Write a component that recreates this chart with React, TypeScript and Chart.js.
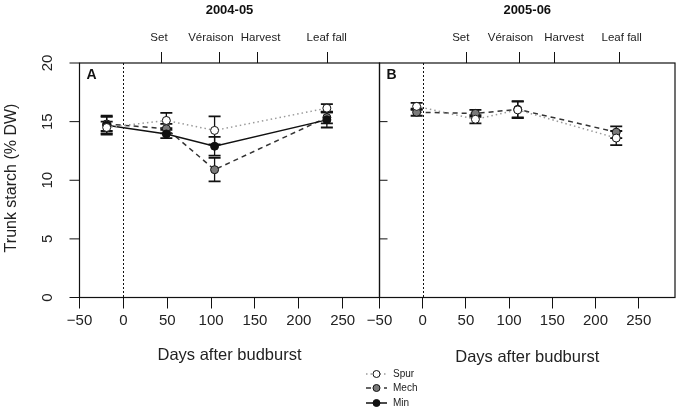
import React, { useEffect, useRef } from "react";
import { Chart, registerables, Plugin } from "chart.js";

Chart.register(...registerables);

const FONT = "'Liberation Sans', Arial, Helvetica, sans-serif";

// panel A, 2004-05
const daysA = [-19, 49, 104, 232];
const spurA = [14.5, 15.1, 14.25, 16.15];
const spurErrA = [0.5, 0.65, 1.2, 0.35];
const mechA = [14.8, 14.4, 10.9, 15.35];
const mechErrA = [0.6, 0.4, 1.0, 0.5];
const minA = [14.7, 13.95, 12.9, 15.15];
const minErrA = [0.8, 0.35, 0.8, 0.65];

// panel B, 2005-06
const daysB = [-7, 61, 110, 224];
const spurB = [16.3, 15.2, 16.0, 13.6];
const spurErrB = [0.3, 0.35, 0.7, 0.6];
const mechB = [15.8, 15.7, 16.05, 14.1];
const mechErrB = [0.3, 0.3, 0.7, 0.5];

const stageNames = ["Set", "Véraison", "Harvest", "Leaf fall"];
const stageDaysA = [44, 110, 153, 233];
const stageDaysB = [51, 112, 152, 228];
// small horizontal nudges (px) so the stage labels do not collide
const stageNudgeA = [-3, -9, 3, -1];
const stageNudgeB = [-6, -9, 10, 2];

const xTicks = [-50, 0, 50, 100, 150, 200, 250];
const yTicks = [0, 5, 10, 15, 20];
const innerYTicks = [5, 10, 15];

const styles = {
  Spur: { line: "#9a9a9a", dash: [1.5, 3], fill: "#ffffff" },
  Mech: { line: "#333333", dash: [5, 4], fill: "#7a7a7a" },
  Min: { line: "#111111", dash: [] as number[], fill: "#111111" },
};

type SeriesName = keyof typeof styles;

const makeSeries = (name: SeriesName, days: number[], vals: number[], errs: number[]) => ({
  label: name,
  data: days.map((d, i) => ({ x: d, y: vals[i] })),
  err: errs,
  borderColor: styles[name].line,
  borderDash: styles[name].dash,
  borderWidth: 1.5,
  pointRadius: 4,
  pointHoverRadius: 4,
  pointBackgroundColor: styles[name].fill,
  pointBorderColor: "#111",
  pointBorderWidth: 1,
  tension: 0,
  fill: false,
});

const errorBars: Plugin = {
  id: "errorBars",
  beforeDatasetsDraw(chart) {
    const { ctx } = chart;
    const y = chart.scales.y;
    ctx.save();
    ctx.strokeStyle = "#111";
    chart.data.datasets.forEach((ds: any, i) => {
      const meta = chart.getDatasetMeta(i);
      meta.data.forEach((pt: any, j) => {
        const v = (ds.data[j] as any).y;
        const e = ds.err[j];
        const top = y.getPixelForValue(v + e);
        const bot = y.getPixelForValue(v - e);
        ctx.lineWidth = 1.3;
        ctx.beginPath();
        ctx.moveTo(pt.x, top);
        ctx.lineTo(pt.x, bot);
        ctx.stroke();
        ctx.lineWidth = 1.8;
        ctx.beginPath();
        ctx.moveTo(pt.x - 6, top);
        ctx.lineTo(pt.x + 6, top);
        ctx.moveTo(pt.x - 6, bot);
        ctx.lineTo(pt.x + 6, bot);
        ctx.stroke();
      });
    });
    ctx.restore();
  },
};

interface PanelCfg {
  letter: string;
  title: string;
  outerY: boolean;
  legend: boolean;
  stageDays: number[];
  stageNudge: number[];
}

const makePanelPlugin = (cfg: PanelCfg): Plugin => ({
  id: "panel" + cfg.letter,
  afterDraw(chart) {
    const { ctx, chartArea } = chart;
    const { left, right, top, bottom } = chartArea;
    const x = chart.scales.x;
    const y = chart.scales.y;
    ctx.save();
    ctx.strokeStyle = "#111";
    ctx.fillStyle = "#111";

    // dotted line at budburst
    const x0 = Math.round(x.getPixelForValue(0)) + 0.5;
    ctx.lineWidth = 1;
    ctx.setLineDash([2, 2]);
    ctx.beginPath();
    ctx.moveTo(x0, top);
    ctx.lineTo(x0, bottom);
    ctx.stroke();
    ctx.setLineDash([]);

    // box
    ctx.lineWidth = 1.2;
    ctx.strokeRect(left, top, right - left, bottom - top);

    // panel letter and season title
    ctx.font = `bold 14px ${FONT}`;
    ctx.textAlign = "left";
    ctx.textBaseline = "middle";
    ctx.fillText(cfg.letter, left + 7, top + 12);
    ctx.font = `bold 13px ${FONT}`;
    ctx.textAlign = "center";
    ctx.fillText(cfg.title, (left + right) / 2, 10);

    // stage labels above the top ticks
    ctx.font = `11.5px ${FONT}`;
    ctx.fillStyle = "#222";
    cfg.stageDays.forEach((d, i) => {
      ctx.fillText(stageNames[i], x.getPixelForValue(d) + cfg.stageNudge[i], 38);
    });

    if (cfg.outerY) {
      ctx.lineWidth = 1;
      yTicks.forEach((v) => {
        const py = y.getPixelForValue(v);
        ctx.beginPath();
        ctx.moveTo(left - 10, py);
        ctx.lineTo(left, py);
        ctx.stroke();
        ctx.save();
        ctx.translate(48, py);
        ctx.rotate(-Math.PI / 2);
        ctx.font = `15px ${FONT}`;
        ctx.fillStyle = "#222";
        ctx.textAlign = "center";
        ctx.textBaseline = "middle";
        ctx.fillText(String(v), 0, 0);
        ctx.restore();
      });
      ctx.save();
      ctx.translate(12, 178);
      ctx.rotate(-Math.PI / 2);
      ctx.font = `16px ${FONT}`;
      ctx.fillStyle = "#222";
      ctx.textAlign = "center";
      ctx.textBaseline = "middle";
      ctx.fillText("Trunk starch (% DW)", 0, 0);
      ctx.restore();
    } else {
      ctx.lineWidth = 1;
      innerYTicks.forEach((v) => {
        const py = y.getPixelForValue(v);
        ctx.beginPath();
        ctx.moveTo(left, py);
        ctx.lineTo(left + 8, py);
        ctx.stroke();
      });
    }

    if (cfg.legend) {
      const rows: SeriesName[] = ["Spur", "Mech", "Min"];
      const rowY = [374, 388, 403];
      ctx.font = `10px ${FONT}`;
      rows.forEach((name, i) => {
        const st = styles[name];
        const cy = rowY[i];
        ctx.strokeStyle = st.line;
        ctx.lineWidth = 1.5;
        ctx.setLineDash(st.dash);
        ctx.beginPath();
        ctx.moveTo(366, cy);
        ctx.lineTo(387, cy);
        ctx.stroke();
        ctx.setLineDash([]);
        ctx.beginPath();
        ctx.arc(376.5, cy, 3.5, 0, Math.PI * 2);
        ctx.fillStyle = st.fill;
        ctx.fill();
        ctx.strokeStyle = "#111";
        ctx.lineWidth = 1;
        ctx.stroke();
        ctx.fillStyle = "#222";
        ctx.textAlign = "left";
        ctx.textBaseline = "middle";
        ctx.fillText(name, 393, cy);
      });
    }
    ctx.restore();
  },
});

interface PanelProps {
  cfg: PanelCfg;
  datasets: any[];
  padLeft: number;
  padRight: number;
  titlePad: number;
}

const Panel: React.FC<PanelProps> = ({ cfg, datasets, padLeft, padRight, titlePad }) => {
  const canvasRef = useRef<HTMLCanvasElement | null>(null);
  const chartRef = useRef<Chart | null>(null);

  useEffect(() => {
    const ctx = canvasRef.current?.getContext("2d");
    if (!ctx) return;
    if (chartRef.current) chartRef.current.destroy();

    chartRef.current = new Chart(ctx, {
      type: "line",
      data: { datasets },
      options: {
        responsive: false,
        animation: false,
        events: [],
        layout: { padding: { left: padLeft, right: padRight, top: 33, bottom: 45.5 } },
        plugins: { legend: { display: false }, tooltip: { enabled: false } },
        scales: {
          x: {
            type: "linear",
            position: "bottom",
            min: -50,
            max: 292,
            afterBuildTicks: (s: any) => {
              s.ticks = xTicks.map((v) => ({ value: v }));
            },
            afterFit: (s: any) => {
              s.height = 70;
            },
            grid: { display: true, drawOnChartArea: false, drawTicks: true, tickLength: 11, color: "#111" },
            border: { display: false },
            ticks: {
              autoSkip: false,
              maxRotation: 0,
              padding: 3.5,
              color: "#222",
              font: { family: FONT, size: 15 },
              callback: (v: any) => String(v).replace("-", "\u2212"),
            },
            title: {
              display: true,
              text: "Days after budburst",
              color: "#222",
              font: { family: FONT, size: 16.5 },
              padding: { top: 0, bottom: titlePad },
            },
          },
          xTop: {
            type: "linear",
            position: "top",
            min: -50,
            max: 292,
            afterBuildTicks: (s: any) => {
              s.ticks = cfg.stageDays.map((v) => ({ value: v }));
            },
            afterFit: (s: any) => {
              s.height = 30;
            },
            grid: { display: true, drawOnChartArea: false, drawTicks: true, tickLength: 11, color: "#111" },
            border: { display: false },
            ticks: { display: false },
          },
          y: { type: "linear", display: false, min: 0, max: 20 },
        },
      },
      plugins: [errorBars, makePanelPlugin(cfg)],
    });

    return () => {
      if (chartRef.current) {
        chartRef.current.destroy();
        chartRef.current = null;
      }
    };
  }, []);

  return (
    <canvas
      ref={canvasRef}
      width={680}
      height={413}
      style={{ position: "absolute", left: 0, top: 0 }}
    ></canvas>
  );
};

const App: React.FC = () => {
  useEffect(() => {
    document.body.style.margin = "0";
    document.body.style.background = "#fff";
  }, []);

  const datasetsA = [
    makeSeries("Spur", daysA, spurA, spurErrA),
    makeSeries("Min", daysA, minA, minErrA),
    makeSeries("Mech", daysA, mechA, mechErrA),
  ];
  const datasetsB = [
    makeSeries("Spur", daysB, spurB, spurErrB),
    makeSeries("Mech", daysB, mechB, mechErrB),
  ];

  return (
    <div style={{ position: "relative", width: 680, height: 413, background: "#fff" }}>
      <Panel
        cfg={{ letter: "A", title: "2004-05", outerY: true, legend: true, stageDays: stageDaysA, stageNudge: stageNudgeA }}
        datasets={datasetsA}
        padLeft={79.5}
        padRight={300.5}
        titlePad={2.6}
      />
      <Panel
        cfg={{ letter: "B", title: "2005-06", outerY: false, legend: false, stageDays: stageDaysB, stageNudge: stageNudgeB }}
        datasets={datasetsB}
        padLeft={379.5}
        padRight={3}
        titlePad={0}
      />
    </div>
  );
};

export default App;
